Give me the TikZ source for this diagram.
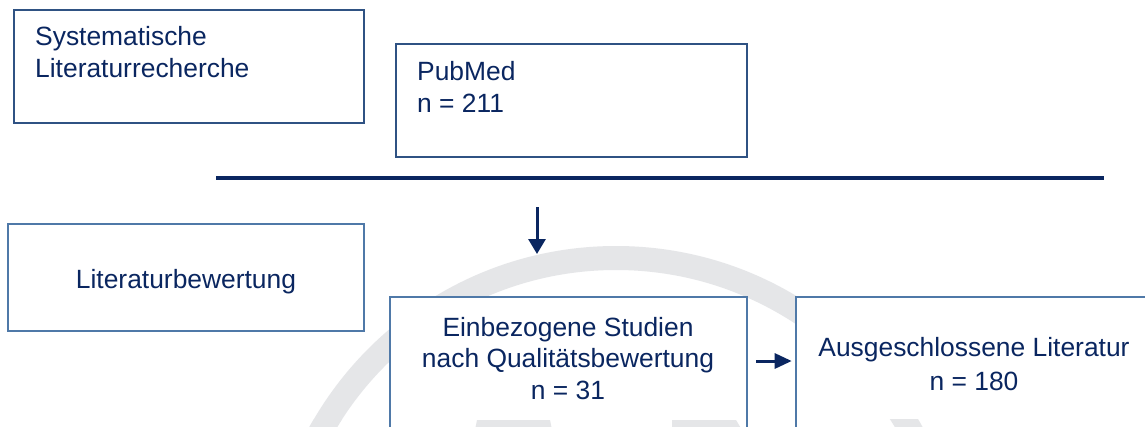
\documentclass[tikz,border=0pt]{standalone}
\usepackage{fontspec}
\setmainfont{Liberation Sans}
\usetikzlibrary{arrows.meta}

\definecolor{navy}{RGB}{10,38,96}
\definecolor{framedark}{RGB}{47,82,131}
\definecolor{framesteel}{RGB}{79,121,168}
\definecolor{markgray}{RGB}{229,230,232}

% light grey arch drawn behind the flow chart
\newcommand\archmark{%
  \fill[markgray, even odd rule] (616,596) circle[radius=350pt] (616,596) circle[radius=326pt];
  \fill[markgray] (477,420) -- (550,420) -- (552,430) -- (475,430) -- cycle;
  \fill[markgray] (672,420) -- (736,420) -- (742,430) -- (672,430) -- cycle;
}

\begin{document}
\begin{tikzpicture}[x=1pt,y=-1pt,
  thinbox/.style={draw=framedark, line width=1.6pt, fill=white, inner sep=0pt},
  steelbox/.style={draw=framesteel, line width=2.6pt, fill=white, inner sep=0pt},
  txt/.style={text=navy, font=\fontsize{26.4}{31.5}\selectfont, inner sep=0pt},
  divider/.style={draw=navy, line width=4pt},
  flowarrow/.style={draw=navy, line width=3pt, -{Triangle[width=17pt,length=15pt]}},
  sidearrow/.style={draw=navy, line width=3pt, -{Triangle[width=15pt,length=17pt]}}]

\clip (0,0) rectangle (1145,426);
\fill[white] (0,0) rectangle (1145,426);
\archmark

% search stage (text nodes are placed by the baseline of their last line)
\node[thinbox, minimum width=350pt, minimum height=113pt] (search) at (189,66.5) {};
\node[thinbox, minimum width=351pt, minimum height=113pt] (pubmed) at (571.5,100.5) {};
\node[txt, anchor=base west, align=left] (searchtxt) at (35,77) {Systematische\\Literaturrecherche};
\node[txt, anchor=base west, align=left] (pubmedtxt) at (417,112) {PubMed\\n = 211};

% divider between the stages
\coordinate (ruleL) at (216,178);
\coordinate (ruleR) at (1104,178);
\draw[divider] (ruleL) -- (ruleR);

% assessment stage
\node[steelbox, minimum width=356pt, minimum height=107pt] (rating) at (186,277.5) {};
\node[steelbox, minimum width=357pt, minimum height=153pt] (included) at (568.5,373.5) {};
\node[steelbox, minimum width=354pt, minimum height=153pt] (excluded) at (973,373.5) {};

\begin{scope}
  \clip (0,419) rectangle (1145,426);
  \archmark
\end{scope}

\node[txt, anchor=base] (ratingtxt) at (186,288) {Literaturbewertung};
\node[txt, anchor=base, align=center] (includedtxt) at (568,399)
  {Einbezogene Studien\\nach Qualitätsbewertung\\n = 31};
\node[txt, anchor=base, align=center, font=\fontsize{26.4}{34}\selectfont] (excludedtxt) at (974,390)
  {Ausgeschlossene Literatur\\n = 180};

% connectors
\coordinate (downA) at (537,207);
\coordinate (downB) at (537,254);
\draw[flowarrow] (downA) -- (downB);
\coordinate (midrow) at (0,361);
\draw[sidearrow, shorten <=8pt, shorten >=3pt] (included.east |- midrow) -- (excluded.west |- midrow);
\end{tikzpicture}
\end{document}
